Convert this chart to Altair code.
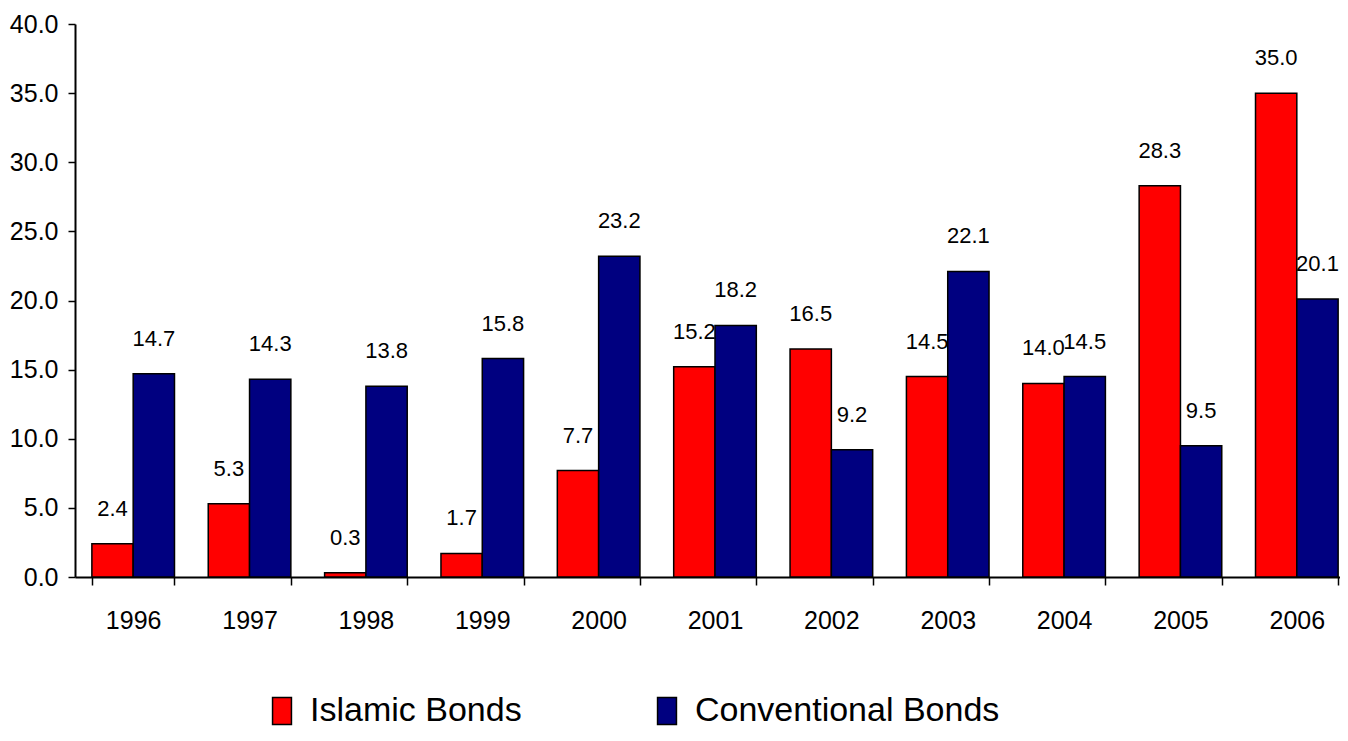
import altair as alt
import pandas as pd

years = ["1996", "1997", "1998", "1999", "2000", "2001", "2002", "2003", "2004", "2005", "2006"]
islamic = [2.4, 5.3, 0.3, 1.7, 7.7, 15.2, 16.5, 14.5, 14.0, 28.3, 35.0]
conventional = [14.7, 14.3, 13.8, 15.8, 23.2, 18.2, 9.2, 22.1, 14.5, 9.5, 20.1]
series = ["Islamic Bonds", "Conventional Bonds"]
colors = ["#FF0000", "#000080"]
y_ticks = [0, 5, 10, 15, 20, 25, 30, 35, 40]

rows = []
for i, yr in enumerate(years):
    rows.append({"year": yr, "series": series[0], "value": islamic[i]})
    rows.append({"year": yr, "series": series[1], "value": conventional[i]})
df = pd.DataFrame(rows)

FONT = "Liberation Sans, Arial"

x = alt.X(
    "year:N", sort=years, title=None,
    scale=alt.Scale(range=[0, 1280], paddingInner=0.29, paddingOuter=0.145),
    axis=alt.Axis(tickBand="extent", labelAngle=0, labelFont=FONT, labelFontSize=25,
                  labelColor="black", tickSize=8, tickColor="black", tickWidth=1.5,
                  domainColor="black", domainWidth=2, labelPadding=23),
)
xoff = alt.XOffset("series:N", sort=series, scale=alt.Scale(paddingInner=0, paddingOuter=0))
y = alt.Y(
    "value:Q", title=None,
    scale=alt.Scale(domain=[0, 40], nice=False),
    axis=alt.Axis(values=y_ticks, format=".1f", grid=False, labelFont=FONT, labelFontSize=25,
                  labelColor="black", tickSize=7, tickColor="black", tickWidth=1.5,
                  domainColor="black", domainWidth=2, labelPadding=10),
)
color = alt.Color(
    "series:N", sort=series,
    scale=alt.Scale(domain=series, range=colors),
    legend=alt.Legend(
        title=None, orient="none", legendX=190, legendY=670, direction="horizontal", columns=2,
        labelFont=FONT, labelFontSize=34, labelColor="black", labelLimit=600, labelOffset=11,
        symbolType="M-0.7,-1H0.7V1H-0.7Z", symbolSize=729, symbolStrokeColor="black",
        symbolStrokeWidth=1.5, symbolOpacity=1, columnPadding=128, padding=0,
    ),
)

bars = alt.Chart(df).mark_bar(stroke="black", strokeWidth=1.5, opacity=1).encode(
    x=x, xOffset=xoff, y=y, color=color
)
labels = alt.Chart(df).mark_text(
    font=FONT, fontSize=22, dy=-28, baseline="alphabetic", color="black"
).encode(x=x, xOffset=xoff, y=y, text=alt.Text("value:Q", format=".1f"))

chart = (bars + labels).properties(
    width=1265, height=553,
    autosize=alt.AutoSizeParams(type="none"),
    padding={"left": 67, "top": 16, "right": 0, "bottom": 152},
).configure_view(stroke=None)

chart.save("out.html", embed_options={"renderer": "svg", "actions": False})
